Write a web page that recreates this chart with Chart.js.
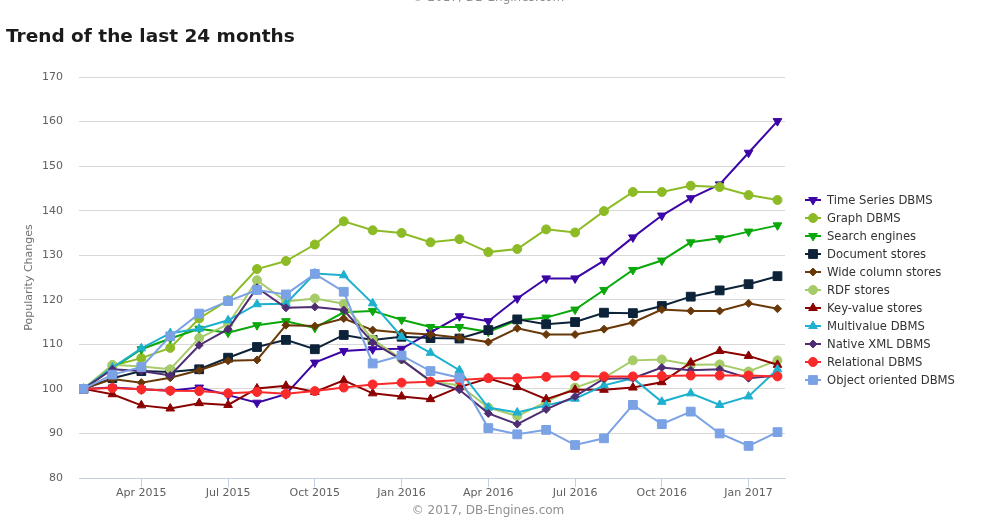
<!DOCTYPE html>
<html>
<head>
<meta charset="utf-8">
<script src="https://cdn.jsdelivr.net/npm/chart.js@4.4.1/dist/chart.umd.min.js"></script>
<style>
  html, body { margin: 0; padding: 0; background: #fff; }
  #wrap { width: 987px; height: 528px; }
</style>
</head>
<body>
<div id="wrap"><canvas id="trendChart" width="987" height="528"></canvas></div>
<script>
// months Feb 2015 .. Feb 2017
const months = [
  "Feb 2015", "Mar 2015", "Apr 2015", "May 2015", "Jun 2015", "Jul 2015", "Aug 2015",
  "Sep 2015", "Oct 2015", "Nov 2015", "Dec 2015", "Jan 2016", "Feb 2016", "Mar 2016",
  "Apr 2016", "May 2016", "Jun 2016", "Jul 2016", "Aug 2016", "Sep 2016", "Oct 2016",
  "Nov 2016", "Dec 2016", "Jan 2017", "Feb 2017"
];
const tickMonths = ["Apr 2015", "Jul 2015", "Oct 2015", "Jan 2016", "Apr 2016", "Jul 2016", "Oct 2016", "Jan 2017"];

const seriesNames = [
  "Time Series DBMS", "Graph DBMS", "Search engines", "Document stores", "Wide column stores",
  "RDF stores", "Key-value stores", "Multivalue DBMS", "Native XML DBMS", "Relational DBMS",
  "Object oriented DBMS"
];

const timeSeries = [100, 100.3, 99.9, 99.6, 100.3, 98.6, 96.9, 98.8, 105.9, 108.5, 108.9, 109.0, 112.7, 116.3, 115.2, 120.3, 124.8, 124.8, 128.8, 134.0, 138.9, 142.8, 145.9, 153.0, 160.1];
const graph = [100, 105.2, 106.9, 109.2, 115.8, 119.9, 126.9, 128.7, 132.4, 137.6, 135.6, 135.0, 132.9, 133.6, 130.7, 131.4, 135.8, 135.1, 139.9, 144.2, 144.2, 145.6, 145.3, 143.5, 142.4];
const search = [100, 104.6, 108.9, 111.3, 113.5, 112.6, 114.3, 115.2, 113.7, 117.2, 117.5, 115.5, 113.9, 113.9, 112.8, 115.4, 116.0, 117.8, 122.2, 126.7, 128.8, 132.9, 133.8, 135.3, 136.7];
const documentStores = [100, 102.4, 104.0, 103.8, 104.4, 107.0, 109.4, 111.0, 108.9, 112.1, 111.0, 111.7, 111.4, 111.3, 113.2, 115.6, 114.5, 115.0, 117.1, 117.0, 118.6, 120.7, 122.1, 123.5, 125.3];
const wideColumn = [100, 102.2, 101.4, 102.5, 104.2, 106.3, 106.5, 114.3, 114.1, 115.8, 113.2, 112.6, 112.2, 111.5, 110.5, 113.6, 112.2, 112.2, 113.4, 114.9, 117.8, 117.5, 117.5, 119.2, 118.0];
const rdf = [100, 105.4, 105.0, 104.4, 111.4, 114.5, 124.4, 119.6, 120.3, 119.1, 111.1, 106.7, 101.6, 100.8, 95.8, 93.9, 97.1, 100.3, 102.5, 106.4, 106.6, 105.4, 105.5, 103.9, 106.4];
const keyValue = [100, 98.8, 96.3, 95.6, 96.8, 96.4, 100.1, 100.7, 99.3, 101.9, 99.0, 98.3, 97.7, 100.4, 102.4, 100.4, 97.7, 99.8, 99.8, 100.3, 101.5, 105.9, 108.5, 107.4, 105.4];
const multivalue = [100, 104.8, 109.1, 112.5, 113.5, 115.4, 119.0, 119.1, 125.9, 125.5, 119.2, 111.7, 108.1, 104.2, 95.8, 94.7, 96.3, 97.8, 100.8, 102.4, 97.1, 99.0, 96.4, 98.3, 104.4];
const nativeXml = [100, 104.4, 104.0, 103.0, 109.8, 113.4, 122.7, 118.2, 118.4, 117.7, 110.4, 106.5, 101.8, 99.8, 94.5, 92.1, 95.4, 98.3, 102.3, 102.4, 104.8, 104.2, 104.4, 102.4, 103.0];
const relational = [100, 100.2, 99.9, 99.6, 99.5, 99.0, 99.3, 98.9, 99.5, 100.3, 101.0, 101.4, 101.6, 102.0, 102.4, 102.4, 102.7, 102.9, 102.8, 102.8, 102.9, 103.0, 103.0, 103.0, 102.8];
const objectOriented = [100, 103.2, 104.9, 111.8, 116.9, 119.7, 122.2, 121.2, 125.8, 121.8, 105.7, 107.5, 104.0, 102.5, 91.2, 89.8, 90.8, 87.4, 88.9, 96.4, 92.1, 94.9, 90.0, 87.2, 90.3];

const seriesValues = [timeSeries, graph, search, documentStores, wideColumn, rdf, keyValue, multivalue, nativeXml, relational, objectOriented];
const seriesColors = ["#3c06a6", "#8cbb26", "#0aa80a", "#0d2339", "#693808", "#a6cb69", "#8b0000", "#1eb0cf", "#4f2d73", "#fa2a2a", "#7aa2e4"];
// marker: style, rotation, radius
const seriesMarkers = [
  ["triangle", 180, 5], ["circle", 0, 4.5], ["triangle", 180, 5], ["rect", 0, 6.2], ["rectRot", 0, 4],
  ["circle", 0, 4.5], ["triangle", 0, 5], ["triangle", 0, 5], ["rectRot", 0, 4], ["circle", 0, 4.5],
  ["rect", 0, 6.2]
];

const FONT = "'DejaVu Sans', Verdana, sans-serif";

const datasets = seriesNames.map((name, i) => ({
  label: name,
  data: seriesValues[i].map((v, j) => ({ x: j, y: v })),
  borderColor: seriesColors[i],
  backgroundColor: seriesColors[i],
  pointBackgroundColor: seriesColors[i],
  pointBorderColor: seriesColors[i],
  borderWidth: 2,
  pointStyle: seriesMarkers[i][0],
  pointRotation: seriesMarkers[i][1],
  pointRadius: seriesMarkers[i][2],
  pointHoverRadius: seriesMarkers[i][2],
  pointBorderWidth: 1,
  tension: 0,
  order: seriesNames.length - i
}));

// title, credits and legend on the canvas
const decorations = {
  id: "decorations",
  afterDraw(chart) {
    const ctx = chart.ctx;
    ctx.save();
    ctx.textBaseline = "middle";

    ctx.fillStyle = "#1b1b1b";
    ctx.font = "bold 18.5px " + FONT;
    ctx.textAlign = "left";
    ctx.fillText("Trend of the last 24 months", 6, 37);

    ctx.fillStyle = "#909090";
    ctx.font = "12px " + FONT;
    ctx.textAlign = "center";
    ctx.fillText("\u00a9 2017, DB-Engines.com", 488, -2);
    ctx.fillText("\u00a9 2017, DB-Engines.com", 488, 511);

    ctx.textAlign = "left";
    ctx.font = "11.6px " + FONT;
    chart.data.datasets.forEach((ds, i) => {
      const y = 200 + i * 18;
      ctx.strokeStyle = ds.borderColor;
      ctx.fillStyle = ds.borderColor;
      ctx.lineWidth = 2;
      ctx.beginPath();
      ctx.moveTo(805, y);
      ctx.lineTo(821, y);
      ctx.stroke();
      ctx.lineWidth = 1;
      Chart.helpers.drawPoint(ctx, {
        pointStyle: ds.pointStyle,
        rotation: ds.pointRotation,
        radius: ds.pointRadius,
        borderWidth: 1
      }, 813, y);
      ctx.fillStyle = "#333333";
      ctx.fillText(ds.label, 827, y + 1);
    });
    ctx.restore();
  }
};

new Chart(document.getElementById("trendChart"), {
  type: "line",
  data: { datasets: datasets },
  plugins: [decorations],
  options: {
    responsive: false,
    animation: false,
    layout: { padding: { top: 77, right: 202, bottom: 0, left: 0 } },
    plugins: {
      legend: { display: false },
      tooltip: { enabled: false }
    },
    scales: {
      x: {
        type: "linear",
        min: -0.156,
        max: 24.26,
        afterBuildTicks(scale) {
          scale.ticks = tickMonths.map((m) => ({ value: months.indexOf(m) }));
        },
        afterFit(scale) { scale.height = 50; },
        ticks: {
          autoSkip: false,
          maxRotation: 0,
          padding: 0,
          color: "#606060",
          font: { family: FONT, size: 11 },
          callback: (v) => months[v]
        },
        grid: { drawOnChartArea: false, drawTicks: true, tickLength: 9, color: "#c0d0e0" },
        border: { color: "#c0d0e0", width: 1 }
      },
      y: {
        min: 80,
        max: 170,
        afterFit(scale) { scale.width = 79; },
        ticks: {
          stepSize: 10,
          padding: 16,
          color: "#606060",
          font: { family: FONT, size: 11 }
        },
        grid: { color: "#d8d8d8", drawTicks: false },
        border: { display: false },
        title: {
          display: true,
          text: "Popularity Changes",
          color: "#707070",
          font: { family: FONT, size: 11 },
          padding: { top: 23, bottom: 0 }
        }
      }
    }
  }
});
</script>
</body>
</html>
